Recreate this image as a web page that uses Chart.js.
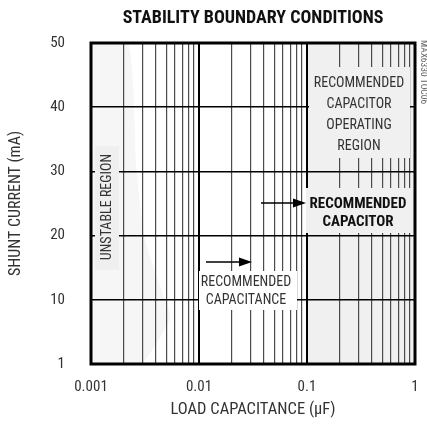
<!DOCTYPE html>
<html><head><meta charset="utf-8">
<script src="https://cdn.jsdelivr.net/npm/chart.js@4.4.1/dist/chart.umd.min.js"></script>
<style>html,body{margin:0;padding:0;background:#fff}#wrap{width:427px;height:427px;position:relative}</style>
</head><body><div id="wrap"><canvas id="c"></canvas></div>
<script>
const FONT = "'Liberation Sans Narrow','Arial Narrow','Roboto Condensed',sans-serif";

// x grid (log decades and sub-decades)
const xGridValues = [0.001,0.002,0.003,0.004,0.005,0.006,0.007,0.008,0.009,
                     0.01,0.02,0.03,0.04,0.05,0.06,0.07,0.08,0.09,
                     0.1,0.2,0.3,0.4,0.5,0.6,0.7,0.8,0.9,1];
const xLabelValues = [0.001,0.01,0.1,1];
const xLabelTexts = ['0.001','0.01','0.1','1'];
const yTickValues = [0,10,20,30,40,50];
const yTickTexts = ['1','10','20','30','40','50'];

// regions
const unstableX = [0.001,0.002];
const unstableY = [50,50];
const unstableEdgeX = [0.001,0.0022,0.00265,0.0032,0.0045,0.0054,0.0042,0.0029,0.001];
const unstableEdgeY = [50,50,30,19,11.5,7.3,3.7,0,0];
const recommendedX = [0.1,1];
const recommendedY = [50,50];

const pts = (xs, ys) => xs.map((x,i)=>({x, y: ys[i]}));

const isDecade = v => Math.abs(Math.log10(v) - Math.round(Math.log10(v))) < 1e-6;

const annot = {
  id: 'annot',
  afterDraw(chart) {
    const ctx = chart.ctx;
    const a = chart.chartArea;
    ctx.save();
    function box(x0,y0,x1,y1,col){ ctx.fillStyle = col; ctx.fillRect(x0,y0,x1-x0,y1-y0); }
    function text(t,x,y,size,bold,col,rot){
      ctx.save(); ctx.translate(x,y); if (rot) ctx.rotate(rot);
      ctx.font = (bold?'bold ':'') + size + 'px ' + FONT;
      ctx.fillStyle = col; ctx.textAlign='center'; ctx.textBaseline='middle';
      ctx.fillText(t,0,0); ctx.restore();
    }
    function arrow(x0,x1,y){
      ctx.strokeStyle='#000'; ctx.lineWidth=1.5;
      ctx.beginPath(); ctx.moveTo(x0,y); ctx.lineTo(x1-10,y); ctx.stroke();
      ctx.fillStyle='#000'; ctx.beginPath();
      ctx.moveTo(x1,y); ctx.lineTo(x1-13,y-4.5); ctx.lineTo(x1-13,y+4.5); ctx.closePath(); ctx.fill();
    }
    // unstable region label
    box(95,146,119,270,'#efefef');
    text('UNSTABLE REGION',107,207,14,false,'#333',-Math.PI/2);
    // operating region label
    box(309,67,410,158,'#f0f0f0');
    text('RECOMMENDED',359,83,14,false,'#333');
    text('CAPACITOR',359,104,14,false,'#333');
    text('OPERATING',359,125,14,false,'#333');
    text('REGION',359,146,14,false,'#333');
    // recommended capacitor bold
    box(306,188,411,233,'#f0f0f0');
    text('RECOMMENDED',358,204,15,true,'#111');
    text('CAPACITOR',358,222,15,true,'#111');
    arrow(261,306,203);
    // recommended capacitance
    box(199,271,297,310,'#ffffff');
    text('RECOMMENDED',246,282,14,false,'#333');
    text('CAPACITANCE',246,300,14,false,'#333');
    arrow(206,252,262);
    // frame
    ctx.strokeStyle='#000'; ctx.lineWidth=3;
    ctx.strokeRect(a.left, a.top, a.right-a.left, a.bottom-a.top);
    // title
    text('STABILITY BOUNDARY CONDITIONS',(a.left+a.right)/2,18,18,true,'#111');
    // watermark
    text('MAX6330 TOC06',423,72,9.5,false,'#666',Math.PI/2);
    ctx.restore();
  }
};

new Chart(document.getElementById('c'), {
  type: 'scatter',
  data: {
    datasets: [
      { data: pts(unstableEdgeX, unstableEdgeY), showLine:true, fill:'shape', backgroundColor:'#f6f6f6', borderWidth:0, pointRadius:0, tension:0.2 },
      { data: pts(unstableX, unstableY), showLine:true, fill:'start', backgroundColor:'#efefef', borderWidth:0, pointRadius:0 },
      { data: pts(recommendedX, recommendedY), showLine:true, fill:'start', backgroundColor:'#f0f0f0', borderWidth:0, pointRadius:0 }
    ]
  },
  options: {
    responsive: true, maintainAspectRatio: false, animation: false,
    layout: { padding: { left: 0, right: 12, top: 43, bottom: 0 } },
    plugins: { legend: { display:false }, tooltip: { enabled:false }, title: { display:false } },
    scales: {
      x: {
        type: 'logarithmic', min: 0.001, max: 1,
        afterBuildTicks: s => { s.ticks = xGridValues.map(v => ({ value: v })); },
        afterFit: s => { s.height = 63; s.paddingLeft = 0; s.paddingRight = 0; },
        grid: {
          z: 1,
          drawTicks: false,
          color: c => (c.tick && isDecade(c.tick.value)) ? '#000' : '#4a4a4a',
          lineWidth: c => (c.tick && isDecade(c.tick.value)) ? 2 : 1.2
        },
        border: { display: false },
        ticks: {
          autoSkip: false, maxRotation: 0, padding: 14, color: '#333',
          font: { family: FONT, size: 15 },
          callback: v => { const i = xLabelValues.findIndex(t => Math.abs(t - v) / t < 1e-6); return i >= 0 ? xLabelTexts[i] : ''; }
        },
        title: { display: true, text: 'LOAD CAPACITANCE (\u00B5F)', color: '#333', font: { family: FONT, size: 16.5 }, padding: { top: 0, bottom: 7 } }
      },
      y: {
        type: 'linear', min: 0, max: 50,
        afterBuildTicks: s => { s.ticks = yTickValues.map(v => ({ value: v })); },
        afterFit: s => { s.width = 91; s.paddingTop = 0; s.paddingBottom = 0; },
        grid: { z: 1, drawTicks: false, color: '#000', lineWidth: 1.5 },
        border: { display: false },
        ticks: {
          padding: 26, color: '#333', font: { family: FONT, size: 15 },
          callback: v => { const i = yTickValues.indexOf(v); return i >= 0 ? yTickTexts[i] : ''; }
        },
        title: { display: true, text: 'SHUNT CURRENT (mA)', color: '#333', font: { family: FONT, size: 16 }, padding: { top: 6, bottom: 0 } }
      }
    }
  },
  plugins: [annot]
});
</script>
</body></html>
